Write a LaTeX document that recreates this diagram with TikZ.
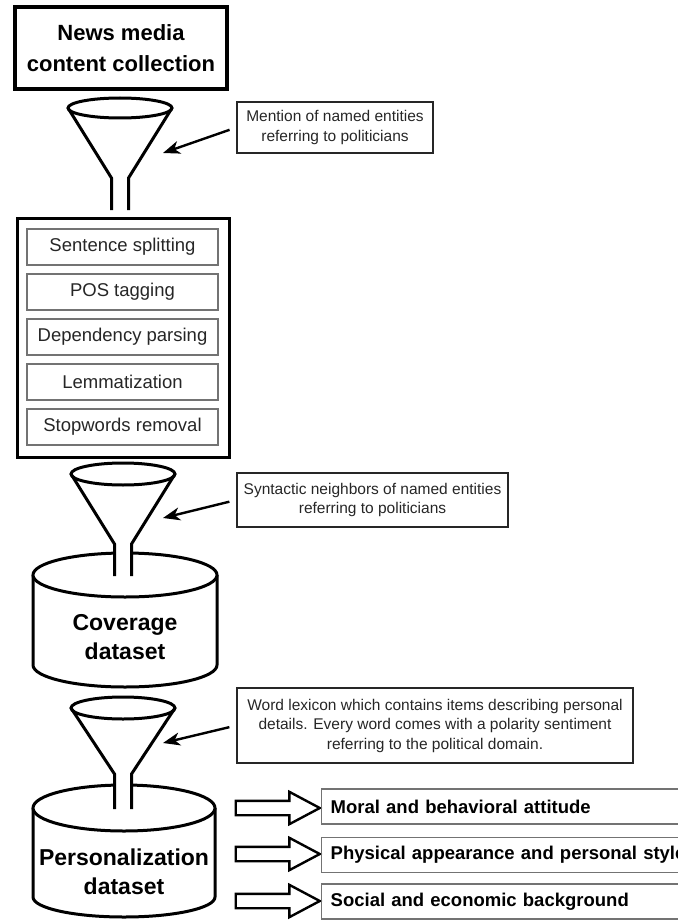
\documentclass[tikz,border=0pt]{standalone}
\usepackage{fontspec}
\setmainfont{Liberation Sans}
\usetikzlibrary{arrows.meta,shapes.arrows}

\begin{document}
\begin{tikzpicture}[x=1pt, y=-1pt,
    titlebox/.style={draw, line width=3.5pt, align=center, minimum width=212pt, minimum height=82pt, font=\fontsize{22}{31}\selectfont\bfseries},
    stepbox/.style={draw=black!55, line width=1.2pt, minimum width=191pt, minimum height=36pt, inner sep=0pt, font=\fontsize{18.5}{22}\selectfont, text=black!85},
    notebox/.style={draw=black!85, line width=1.6pt, align=center, inner sep=0pt, font=\fontsize{15.5}{19.5}\selectfont, text=black!85},
    catbox/.style={draw=black!55, line width=1.4pt, anchor=west, minimum height=35pt, text width=380pt, inner xsep=9pt, align=left, font=\fontsize{18.5}{22}\selectfont\bfseries},
    note/.style={line width=2.4pt, -{Stealth[length=17pt,width=13pt,inset=5pt]}, shorten <=7pt},
    fatarrow/.style={single arrow, draw, line width=2.4pt, fill=white, minimum height=84pt, inner xsep=0pt, inner ysep=6pt, single arrow head extend=9pt, single arrow tip angle=56},
    dbtext/.style={align=center, font=\fontsize{23}{29}\selectfont\bfseries}]
    \useasboundingbox (0,0) rectangle (677,920);

    % source
    \node[titlebox] (news) at (121,48) {News media\\content collection};

    % preprocessing
    \node[draw, line width=3pt, minimum width=212pt, minimum height=239pt] (prep) at (123,337.5) {};
    \node[stepbox] (split) at (122.5,247) {Sentence splitting};
    \node[stepbox] (pos)   at (122.5,292) {POS tagging};
    \node[stepbox] (dep)   at (122.5,337) {Dependency parsing};
    \node[stepbox] (lem)   at (122.5,382) {Lemmatization};
    \node[stepbox] (stop)  at (122.5,427) {Stopwords removal};

    % coverage dataset
    \begin{scope}[shift={(125,575)}, line width=3pt]
        \filldraw[fill=white] (-92,0) -- (-92,90) arc (180:0:92 and 22) -- (92,0);
        \draw[fill=white] (0,0) ellipse (92 and 22);
    \end{scope}
    \node[dbtext] (cov) at (125,637) {Coverage\\dataset};

    % personalization dataset
    \begin{scope}[shift={(124,808)}, line width=3pt]
        \filldraw[fill=white] (-91,0) -- (-91,89) arc (180:0:91 and 20) -- (91,0);
        \draw[fill=white] (0,0) ellipse (91 and 23);
    \end{scope}
    \node[dbtext] (pers) at (124,871.5) {Personalization\\dataset};

    % funnel 1
    \begin{scope}[shift={(120,108)}, line width=3pt]
        \fill[white] (-52,0) -- (-8.5,70) -- (-8.5,102) -- (8.5,102) -- (8.5,70) -- (52,0) -- cycle;
        \draw[fill=white] (0,0) ellipse (52 and 10);
        \draw (-52,0) -- (-8.5,70) -- (-8.5,102);
        \draw (52,0) -- (8.5,70) -- (8.5,102);
    \end{scope}
    \coordinate (tip1) at (163,153);

    % funnel 2
    \begin{scope}[shift={(123,474)}, line width=3pt]
        \fill[white] (-52,0) -- (-8.5,70) -- (-8.5,102) -- (8.5,102) -- (8.5,70) -- (52,0) -- cycle;
        \draw[fill=white] (0,0) ellipse (52 and 11);
        \draw (-52,0) -- (-8.5,70) -- (-8.5,102);
        \draw (52,0) -- (8.5,70) -- (8.5,102);
    \end{scope}
    \coordinate (tip2) at (163,518);

    % funnel 3
    \begin{scope}[shift={(123,708)}, line width=3pt]
        \fill[white] (-52,0) -- (-8.5,66) -- (-8.5,101) -- (8.5,101) -- (8.5,66) -- (52,0) -- cycle;
        \draw[fill=white] (0,0) ellipse (52 and 11);
        \draw (-52,0) -- (-8.5,66) -- (-8.5,101);
        \draw (52,0) -- (8.5,66) -- (8.5,101);
    \end{scope}
    \coordinate (tip3) at (163,743);

    % filter notes
    \node[notebox, minimum width=196pt, minimum height=51pt] (mention) at (335,127.5)
        {Mention of named entities\\referring to politicians};
    \node[notebox, minimum width=271pt, minimum height=54pt] (synt) at (372.5,500)
        {Syntactic neighbors of named entities\\referring to politicians};
    \node[notebox, minimum width=396pt, minimum height=75pt] (lexicon) at (435,725.5)
        {Word lexicon which contains items describing personal\\details. Every word comes with a polarity sentiment\\referring to the political domain.};
    \draw[note] (mention.west) -- (tip1);
    \draw[note] (synt.west) -- (tip2);
    \draw[note] (lexicon.west) -- (tip3);

    % categories
    \node[fatarrow] (arr1) at (271,808) {};
    \node[fatarrow] (arr2) at (271,854) {};
    \node[fatarrow] (arr3) at (271,901) {};
    \node[catbox] (moral) at (321,806.5) {Moral and behavioral attitude};
    \node[catbox] (phys)  at (321,855)   {Physical appearance and personal style};
    \node[catbox] (social) at (321,901.5) {Social and economic background};
\end{tikzpicture}
\end{document}
